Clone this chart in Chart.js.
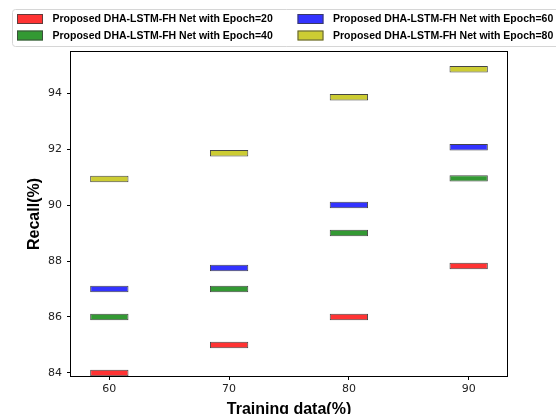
<!DOCTYPE html>
<html><head><meta charset="utf-8">
<script src="https://cdn.jsdelivr.net/npm/chart.js@4.4.0/dist/chart.umd.min.js"></script>
<style>html,body{margin:0;padding:0;background:#fff}#wrap{width:556px;height:414px;position:relative}</style>
</head><body><div id="wrap"><canvas id="c" width="556" height="414"></canvas></div>
<script>
// ---- data ----
const trainingData = [60, 70, 80, 90];
const epoch20 = [84.0, 85.0, 86.0, 87.82];
const epoch40 = [86.0, 87.0, 89.0, 90.95];
const epoch60 = [87.0, 87.75, 90.0, 92.06];
const epoch80 = [90.93, 91.85, 93.85, 94.85];
const seriesLabels = [
  'Proposed DHA-LSTM-FH Net with Epoch=20',
  'Proposed DHA-LSTM-FH Net with Epoch=40',
  'Proposed DHA-LSTM-FH Net with Epoch=60',
  'Proposed DHA-LSTM-FH Net with Epoch=80'
];
const xTicks = [60, 70, 80, 90];
const yTicks = [84, 86, 88, 90, 92, 94];

// ---- styles ----
const fills = ['rgb(255,51,51)', 'rgb(51,153,51)', 'rgb(51,51,255)', 'rgb(204,204,51)'];
const half = 3.2 / 28;

const seriesValues = [epoch20, epoch40, epoch60, epoch80];
const datasets = seriesValues.map((vals, i) => ({
  label: seriesLabels[i],
  data: trainingData.map((x, j) => ({ x: x, y: [vals[j] - half, vals[j] + half] })),
  backgroundColor: fills[i],
  borderColor: '#454545',
  borderWidth: 1,
  borderSkipped: false,
  inflateAmount: 0,
  grouped: false,
  categoryPercentage: 1,
  barPercentage: 0.32
}));

const frame = {
  id: 'frame',
  afterDatasetsDraw(chart) {
    const { ctx, chartArea: a } = chart;
    ctx.save();
    ctx.strokeStyle = '#000';
    ctx.lineWidth = 1;
    ctx.strokeRect(Math.round(a.left) - 0.5, Math.round(a.top) - 0.5, Math.round(a.right - a.left) + 1, Math.round(a.bottom - a.top) + 1);
    ctx.restore();
  }
};

const legendBox = {
  id: 'legendBox',
  afterDraw(chart) {
    const ctx = chart.ctx;
    ctx.save();
    const bx = 12.5, by = 9.5, bw = 560, bh = 37;
    ctx.beginPath();
    const r = 3;
    ctx.moveTo(bx + r, by);
    ctx.lineTo(bx + bw, by);
    ctx.lineTo(bx + bw, by + bh);
    ctx.lineTo(bx + r, by + bh);
    ctx.arcTo(bx, by + bh, bx, by + bh - r, r);
    ctx.lineTo(bx, by + r);
    ctx.arcTo(bx, by, bx + r, by, r);
    ctx.closePath();
    ctx.fillStyle = 'rgba(255,255,255,0.85)';
    ctx.fill();
    ctx.strokeStyle = '#d6d6d6';
    ctx.lineWidth = 1;
    ctx.stroke();
    const cols = [17, 297.5];
    const rows = [14, 30.5];
    ctx.font = 'bold 10.5px "Liberation Sans", Arial, sans-serif';
    ctx.textBaseline = 'middle';
    ctx.textAlign = 'left';
    chart.data.datasets.forEach((ds, i) => {
      const col = Math.floor(i / 2), row = i % 2;
      const x = cols[col], y = rows[row];
      ctx.fillStyle = ds.backgroundColor;
      ctx.fillRect(x, y, 26, 10);
      ctx.strokeStyle = 'rgba(60,60,60,0.8)';
      ctx.strokeRect(x + 0.5, y + 0.5, 25, 9);
      ctx.fillStyle = '#000';
      ctx.fillText(ds.label, x + 35.5, y + 5.5);
    });
    ctx.restore();
  }
};

new Chart(document.getElementById('c'), {
  type: 'bar',
  data: { datasets },
  options: {
    responsive: false,
    animation: false,
    layout: { padding: { top: 52, right: 49, left: 0, bottom: 0 } },
    plugins: { legend: { display: false }, tooltip: { enabled: false } },
    scales: {
      x: {
        type: 'linear',
        offset: false,
        min: 56.8, max: 93.2,
        afterBuildTicks: s => { s.ticks = xTicks.map(v => ({ value: v })); },
        afterFit: s => { s.height = 38; },
        border: { display: false },
        grid: { display: true, offset: false, drawOnChartArea: false, drawTicks: true, tickLength: 4, color: '#000', tickColor: '#000' },
        ticks: { padding: 3, color: '#222', font: { family: '"DejaVu Sans", sans-serif', size: 11 }, maxRotation: 0 },
        title: { display: true, text: 'Training data(%)', color: '#000',
          font: { family: '"Liberation Sans", Arial, sans-serif', size: 16, weight: 'bold' },
          padding: { top: 0, bottom: -5 } }
      },
      y: {
        type: 'linear',
        min: 83.892857, max: 95.464286,
        afterBuildTicks: s => { s.ticks = yTicks.map(v => ({ value: v })); },
        afterFit: s => { s.width = 71; },
        border: { display: false },
        grid: { display: true, drawOnChartArea: false, drawTicks: true, tickLength: 4, color: '#000', tickColor: '#000' },
        ticks: { padding: 5, color: '#222', font: { family: '"DejaVu Sans", sans-serif', size: 11 } },
        title: { display: true, text: 'Recall(%)', color: '#000',
          font: { family: '"Liberation Sans", Arial, sans-serif', size: 16, weight: 'bold' },
          padding: { top: 25, bottom: 0 } }
      }
    }
  },
  plugins: [frame, legendBox]
});
</script>
</body></html>
